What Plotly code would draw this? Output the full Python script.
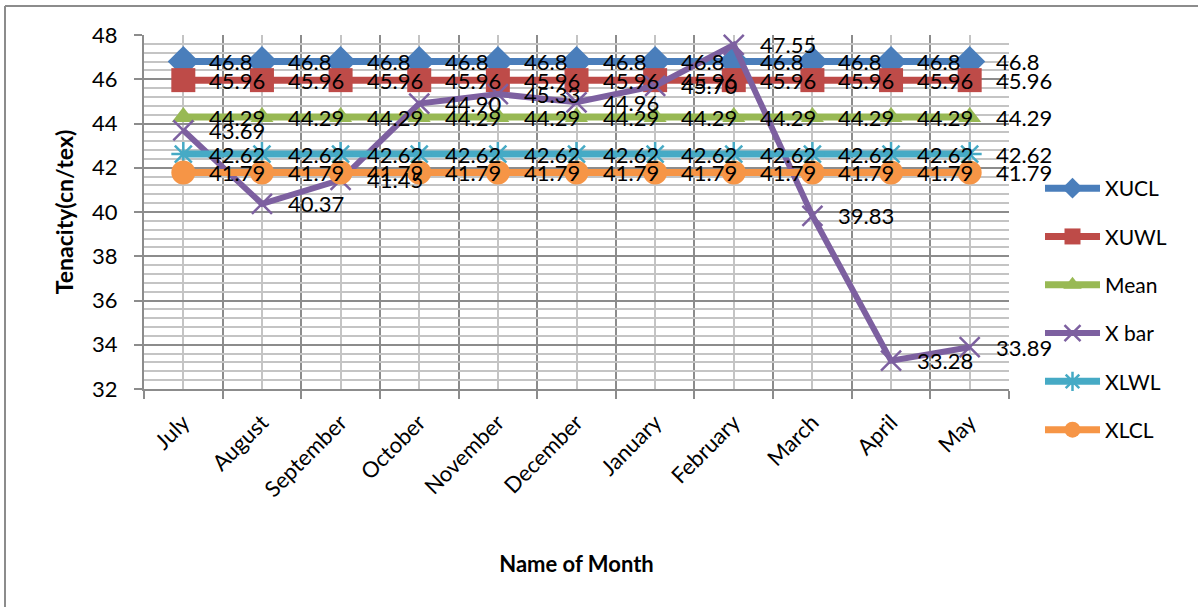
import plotly.graph_objects as go

# Monthly tenacity control chart data
months = ["July", "August", "September", "October", "November", "December",
          "January", "February", "March", "April", "May"]
xucl = [46.8] * 11
xuwl = [45.96] * 11
mean = [44.29] * 11
xbar = [43.69, 40.37, 41.45, 44.90, 45.33, 44.96, 45.70, 47.55, 39.83, 33.28, 33.89]
xlwl = [42.62] * 11
xlcl = [41.79] * 11

y_ticks = [32, 34, 36, 38, 40, 42, 44, 46, 48]

FONT = "Lato"
W, H = 1198, 607
L, R, T, B = 144, 189, 35, 218
PW, PH = W - L - R, H - T - B

series = [
    ("XUCL", xucl, "#4A7EBB", dict(symbol="diamond", size=24), "{:.1f}"),
    ("XUWL", xuwl, "#BE4B48", dict(symbol="square", size=24), "{:.2f}"),
    ("Mean", mean, "#98B954", dict(symbol="triangle-up", size=20), "{:.2f}"),
    ("X bar", xbar, "#7D60A0", dict(symbol="x-thin-open", size=20, line=dict(width=2.5, color="#7D60A0")), "{:.2f}"),
    ("XLWL", xlwl, "#46AAC5", dict(symbol="asterisk-open", size=20, line=dict(width=2.5, color="#46AAC5")), "{:.2f}"),
    ("XLCL", xlcl, "#F69546", dict(symbol="circle", size=24), "{:.2f}"),
]

xs = list(range(len(months)))
fig = go.Figure()
annotations = []
for i, (name, vals, color, marker, fmt) in enumerate(series):
    fig.add_trace(go.Scatter(
        x=xs, y=vals, name=name, mode="lines+markers",
        line=dict(color=color, width=7 if name != "X bar" else 6),
        marker=dict(color=color, **marker),
        legendgroup=name, cliponaxis=False,
    ))
    for x, v in zip(xs, vals):
        annotations.append(dict(
            x=x, y=v, xref="x", yref="y", text=fmt.format(v),
            showarrow=False, xanchor="left", yanchor="middle", xshift=24,
            font=dict(family=FONT, size=22, color="black"),
        ))

# Outer chart frame (left and top edges)
frame = dict(type="line", xref="paper", yref="paper", line=dict(color="#8C8C8C", width=2))
shapes = [
    dict(frame, x0=(5 - L) / PW, x1=(5 - L) / PW, y0=(H - 6 - B) / PH, y1=-B / PH - 0.01),
    dict(frame, x0=(5 - L) / PW, x1=(W - L) / PW + 0.01, y0=(H - 6 - B) / PH, y1=(H - 6 - B) / PH),
]

fig.update_layout(
    width=W, height=H,
    margin=dict(l=L, r=R, t=T, b=B),
    paper_bgcolor="white", plot_bgcolor="white",
    font=dict(family=FONT, color="black"),
    annotations=annotations,
    shapes=shapes,
    legend=dict(
        x=(1040 - L) / PW, y=(H - B - 168) / PH, xanchor="left", yanchor="top",
        font=dict(family=FONT, size=21, color="black"),
        itemwidth=55, tracegroupgap=18, bgcolor="rgba(0,0,0,0)",
    ),
    xaxis=dict(
        range=[-0.5, len(months) - 0.5],
        tickvals=xs, ticktext=months, tickangle=-45,
        tickfont=dict(family=FONT, size=22, color="black"),
        ticks="", showgrid=True, gridcolor="#C4C4C4", gridwidth=1.5,
        showline=True, linecolor="#8C8C8C", linewidth=2,
        ticklabelstandoff=10,
        minor=dict(tick0=-0.5, dtick=1, showgrid=True, gridcolor="#8C8C8C", gridwidth=1.5,
                   ticks="outside", ticklen=8, tickcolor="#8C8C8C", tickwidth=1.5),
        title=dict(text="<b>Name of Month</b>", font=dict(family=FONT, size=22, color="black"), standoff=56),
        zeroline=False,
    ),
    yaxis=dict(
        range=[32, 48], tickvals=y_ticks,
        tickfont=dict(family=FONT, size=22, color="black"),
        ticks="outside", ticklen=8, tickcolor="#8C8C8C", tickwidth=1.5,
        showgrid=True, gridcolor="#8C8C8C", gridwidth=1.5,
        showline=True, linecolor="#8C8C8C", linewidth=2,
        minor=dict(tick0=32, dtick=0.4, showgrid=True, gridcolor="#C4C4C4", gridwidth=1.5),
        ticklabelstandoff=12,
        title=dict(text="<b>Tenacity(cn/tex)</b>", font=dict(family=FONT, size=23, color="black"), standoff=12),
        zeroline=False,
    ),
)

fig.write_html("out.html")
